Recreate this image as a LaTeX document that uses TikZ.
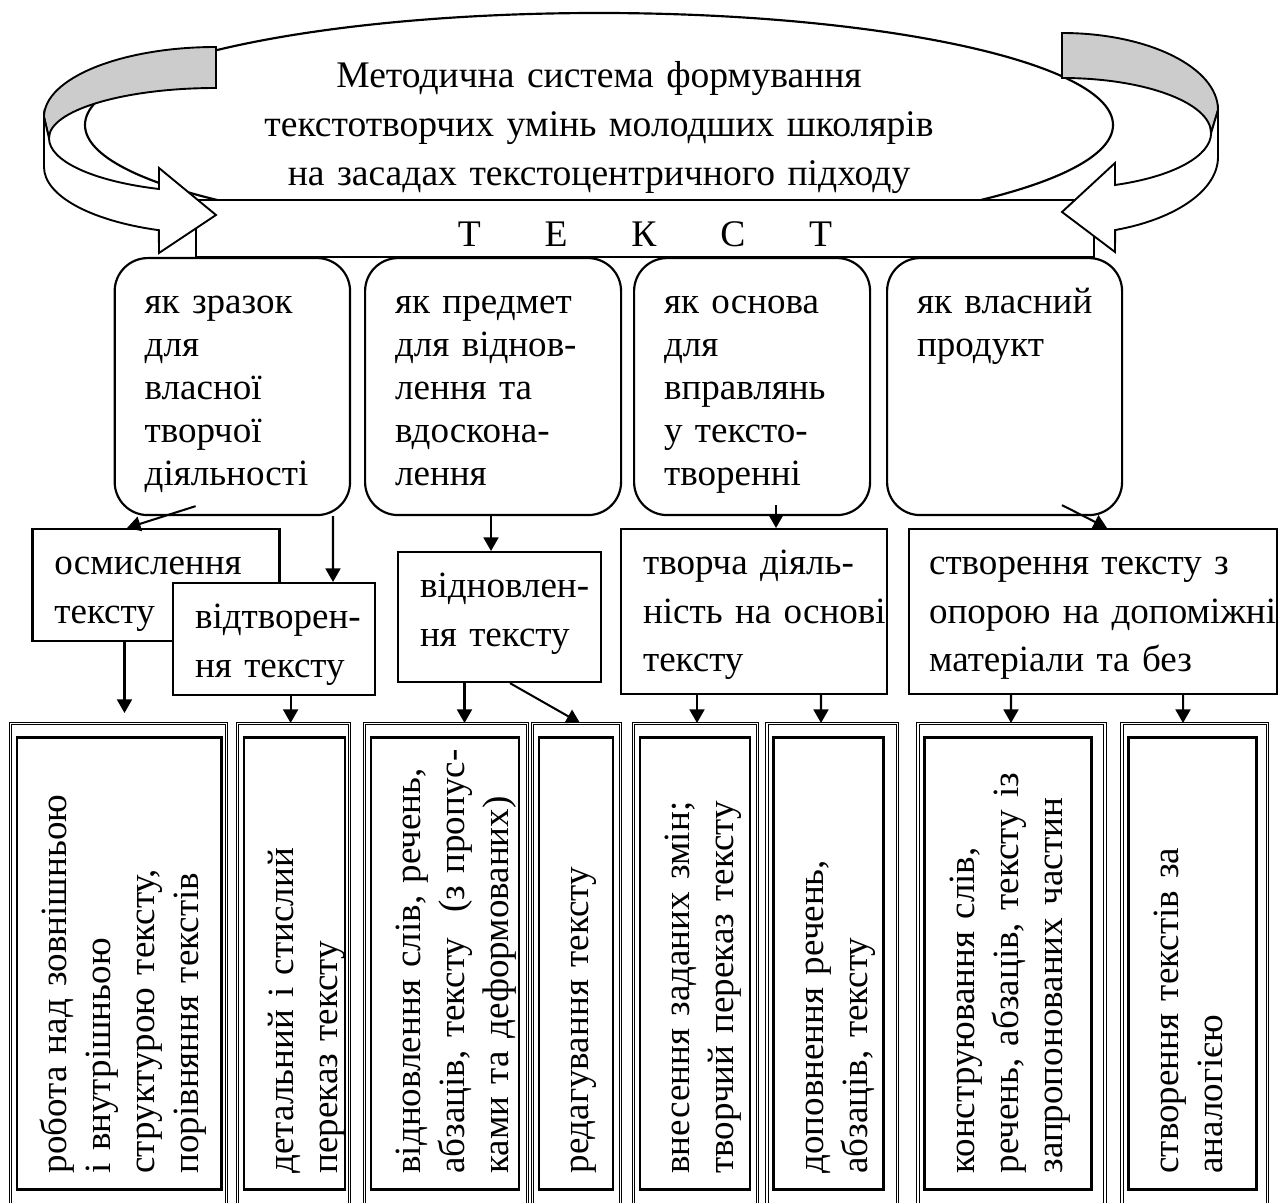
\documentclass[tikz,border=0pt]{standalone}
\usepackage{fontspec}
\setmainfont{Liberation Serif}
\usepackage{tikz}
\usetikzlibrary{shapes.geometric,arrows.meta}
\exhyphenpenalty=10000

\begin{document}
\begin{tikzpicture}[
        x=0.013cm, y=-0.013cm,
        rolebox/.style={draw, line width=0.8pt, rounded corners=0.43cm, fill=white, anchor=north west, align=left, inner xsep=0.39cm, inner ysep=0pt, text height=0.715cm, text depth=2.626cm, font=\fontsize{13.7}{15.9}\selectfont},
        workbox/.style={draw, line width=0.8pt, fill=white, anchor=north west, align=left, inner xsep=0.286cm, inner ysep=0pt, text height=0.585cm, font=\fontsize{13.7}{18.1}\selectfont},
        outbox/.style={draw, double, double distance=0.7pt, line width=0.35pt, anchor=north west, inner sep=0pt, minimum height=6.396cm},
        taskbox/.style={draw, line width=1.1pt, rotate=90, anchor=north east, align=left, minimum width=5.876cm, text width=5.46cm, inner xsep=0.208cm, inner ysep=0pt, text height=0.65cm, font=\fontsize{13.7}{16.2}\selectfont},
        ribbon/.style={draw, line width=0.7pt, fill=#1},
        arrow/.style={-{Triangle[length=5pt,width=5.5pt]}, line width=0.75pt}
    ]
        \useasboundingbox (0,0) rectangle (1279,1203);
        \clip (0,0) rectangle (1279,1203);

        % Title and text bar
        \node[draw, ellipse, line width=0.8pt, fill=white, minimum width=13.364cm, minimum height=2.912cm, inner sep=0pt, align=center, text width=9.36cm, text height=0.39cm, text depth=1.352cm, font=\fontsize{13.9}{18}\selectfont] (title) at (599,125) {
            Методична система формування\\
            текстотворчих умінь молодших школярів\\
            на засадах текстоцентричного підходу
        };
        \node[draw, line width=0.8pt, fill=white, minimum width=11.674cm, minimum height=0.741cm, inner sep=0pt, text height=0.481cm, text depth=0pt, font=\fontsize{13.9}{16}\selectfont] (bar) at (645,228.5) {Т\hspace{0.83cm}Е\hspace{0.83cm}К\hspace{0.83cm}С\hspace{0.83cm}Т};

        % Roles of the text
        \node[rolebox, text width=2.28cm] (r1) at (113.6,257) {як зразок\\ для\\ власної\\ творчої\\ діяльності};
        \node[rolebox, text width=2.548cm] (r2) at (364,257) {як предмет\\ для віднов-\\ лення та\\ вдоскона-\\ лення};
        \node[rolebox, text width=2.288cm] (r3) at (633,257) {як основа\\ для\\ вправлянь\\ у тексто-\\ творенні};
        \node[rolebox, text width=2.275cm] (r4) at (886,257) {як~власний\\ продукт};

        % Curved arrows
        \path[ribbon=gray!40] (216,47) arc[start angle=270, end angle=180, x radius=172, y radius=70] -- (49,138) arc[start angle=180, end angle=270, x radius=167, y radius=50] -- cycle;
        \path[ribbon=white] (44,117) -- (44,167) arc[start angle=180, end angle=109.4, x radius=172, y radius=67] -- (159,253) -- (216,215) -- (159,168) -- (159,189) arc[start angle=109.96, end angle=180, x radius=167, y radius=54] -- cycle;
        \path[ribbon=gray!40] (1062,33) arc[start angle=270, end angle=360, x radius=156, y radius=77] -- (1211,133) arc[start angle=0, end angle=-90, x radius=149, y radius=55] -- cycle;
        \path[ribbon=white] (1218,110) -- (1218,157) arc[start angle=0, end angle=70.1, x radius=156, y radius=77.7] -- (1115,252) -- (1062,212) -- (1115,163) -- (1115,185) arc[start angle=69.2, end angle=0, x radius=149, y radius=55.6] -- cycle;

        % Kinds of work
        \node[workbox, text width=2.639cm, text depth=0.871cm] (m1) at (31.4,528) {осмислення\\ тексту};
        \node[workbox, text width=2.054cm, text depth=0.871cm] (m2) at (172,582) {відтворен-\\ ня~тексту};
        \node[workbox, text width=2.067cm, text depth=1.105cm] (m3) at (397,551) {відновлен-\\ ня~тексту};
        \node[workbox, text width=2.886cm, text depth=1.56cm] (m4) at (620,528) {творча~діяль-\\ ність~на~основі\\ тексту};
        \node[workbox, inner xsep=0.26cm, text width=4.264cm, text depth=1.56cm] (m5) at (908,528) {створення тексту з\\ опорою~на~допоміжні\\ матеріали та без};

        % Exercises
        \node[outbox, minimum width=2.808cm] (o1) at (10,723) {};
        \node[outbox, minimum width=1.456cm] (o2) at (237,723) {};
        \node[outbox, minimum width=2.119cm] (o3) at (364,723) {};
        \node[outbox, minimum width=1.144cm] (o4) at (532,723) {};
        \node[outbox, minimum width=1.612cm] (o5) at (633,723) {};
        \node[outbox, minimum width=1.697cm] (o6) at (766.5,723) {};
        \node[outbox, minimum width=2.431cm] (o7) at (917.5,723) {};
        \node[outbox, minimum width=1.89cm] (o8) at (1121.6,723) {};

        \node[taskbox, text depth=2.009cm] (i1) at ([shift={(5.5,13)}]o1.north west) {робота над зовнішньою\\ і внутрішньою\\ структурою тексту,\\ порівняння текстів};
        \node[taskbox, text depth=0.663cm] (i2) at ([shift={(5.5,13)}]o2.north west) {детальний і стислий\\ переказ тексту};
        \node[taskbox, text depth=1.274cm] (i3) at ([shift={(5.5,13)}]o3.north west) {відновлення~слів,~речень,\\ абзаців,~тексту~~(з~пропус-\\ ками та деформованих)};
        \node[taskbox, text depth=0.312cm] (i4) at ([shift={(5.5,13)}]o4.north west) {редагування тексту};
        \node[taskbox, text depth=0.78cm] (i5) at ([shift={(5.5,13)}]o5.north west) {внесення заданих змін;\\ творчий переказ тексту};
        \node[taskbox, text depth=0.78cm] (i6) at ([shift={(5.5,13)}]o6.north west) {доповнення речень,\\ абзаців, тексту};
        \node[taskbox, text depth=1.521cm] (i7) at ([shift={(5.5,13)}]o7.north west) {конструювання слів,\\ речень,~абзаців,~тексту~із\\ запропонованих частин};
        \node[taskbox, text depth=1.014cm] (i8) at ([shift={(5.5,13)}]o8.north west) {створення текстів за\\ аналогією};

        % Arrows
        \draw[arrow] ([shift={(82,-10)}]r1.south west) -- ([shift={(95.6,0)}]m1.north west);
        \draw[arrow] ([shift={(219.4,0)}]r1.south west) -- ([shift={(161,0)}]m2.north west);
        \draw[arrow] ([shift={(127,0)}]r2.south west) -- ([shift={(94,0)}]m3.north west);
        \draw[arrow] ([shift={(143,-11)}]r3.south west) -- ([shift={(156,0)}]m4.north west);
        \draw[arrow] ([shift={(176,-11)}]r4.south west) -- ([shift={(199,0)}]m5.north west);
        \draw[arrow, shorten >=0.13cm] ([shift={(93.1,0)}]m1.south west) -- ([shift={(114.5,0)}]o1.north west);
        \draw[arrow] ([shift={(118.6,0)}]m2.south west) -- ([shift={(53.6,0)}]o2.north west);
        \draw[arrow] ([shift={(67.5,0)}]m3.south west) -- ([shift={(100.5,0)}]o3.north west);
        \draw[arrow] ([shift={(113,0)}]m3.south west) -- ([shift={(48,0)}]o4.north west);
        \draw[arrow] ([shift={(77,0)}]m4.south west) -- ([shift={(64,0)}]o5.north west);
        \draw[arrow] ([shift={(201,0)}]m4.south west) -- ([shift={(54.5,0)}]o6.north west);
        \draw[arrow] ([shift={(103,0)}]m5.south west) -- ([shift={(93.5,0)}]o7.north west);
        \draw[arrow] ([shift={(275,0)}]m5.south west) -- ([shift={(61.4,0)}]o8.north west);

    \end{tikzpicture}
\end{document}
